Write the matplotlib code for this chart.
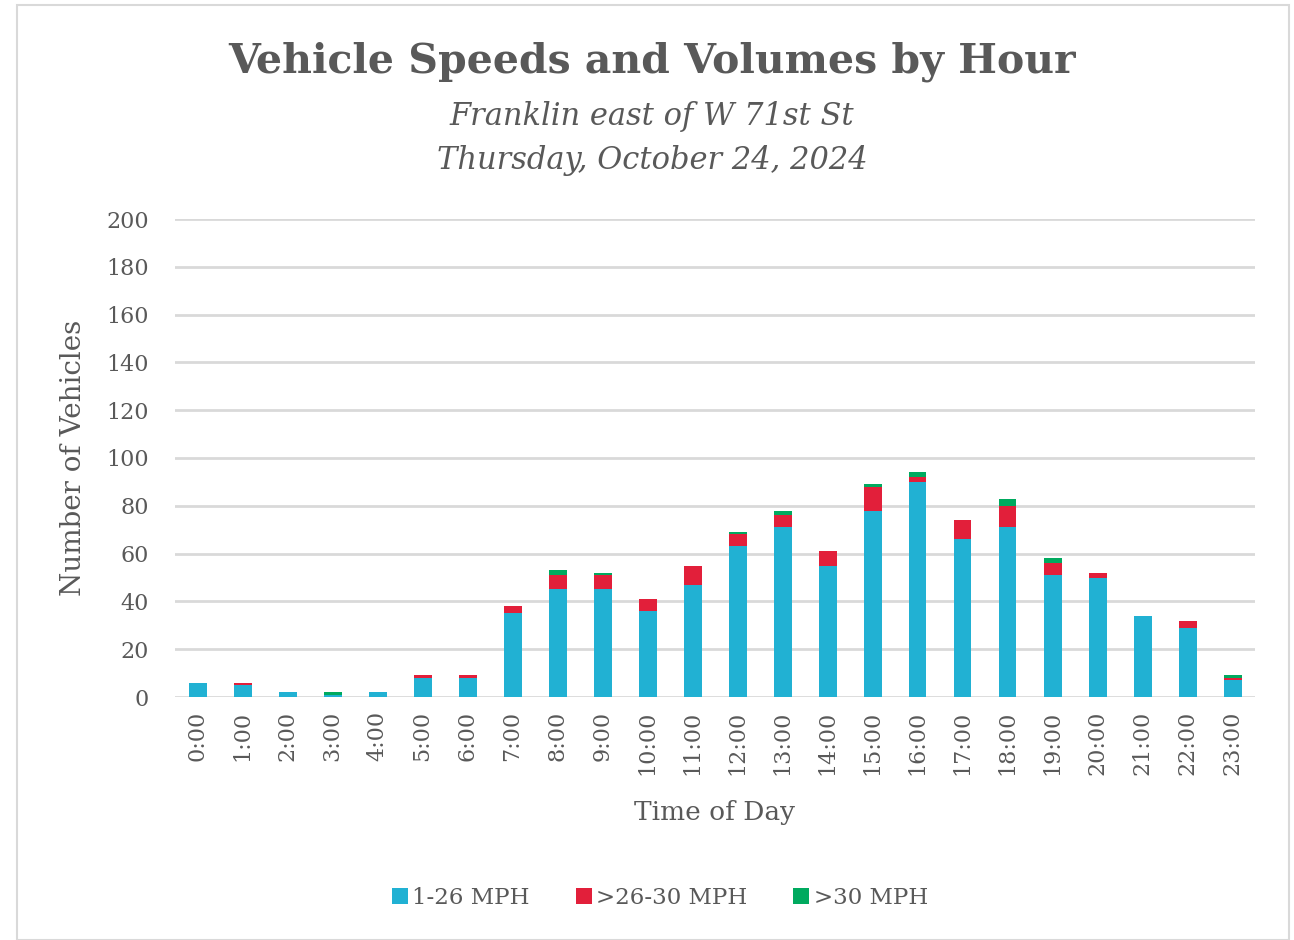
import matplotlib.pyplot as plt
from matplotlib.patches import Rectangle
import numpy as np

# --------------------------
# Data
# --------------------------

hours = ["0:00", "1:00", "2:00", "3:00", "4:00", "5:00", "6:00", "7:00",
         "8:00", "9:00", "10:00", "11:00", "12:00", "13:00", "14:00", "15:00",
         "16:00", "17:00", "18:00", "19:00", "20:00", "21:00", "22:00", "23:00"]

speed_1_26 = [6, 5, 2, 1, 2, 8, 8, 35, 45, 45, 36, 47, 63, 71, 55, 78, 90, 66, 71, 51, 50, 34, 29, 7]
speed_26_30 = [0, 1, 0, 0, 0, 1, 1, 3, 6, 6, 5, 8, 5, 5, 6, 10, 2, 8, 9, 5, 2, 0, 3, 1]
speed_over_30 = [0, 0, 0, 1, 0, 0, 0, 0, 2, 1, 0, 0, 1, 2, 0, 1, 2, 0, 3, 2, 0, 0, 0, 1]

series_labels = ["1-26 MPH", ">26-30 MPH", ">30 MPH"]
colors = ["#21B1D3", "#E21F3A", "#00AA5F"]

text_color = "#595959"
serif = ["DejaVu Serif"]

plt.rcParams["font.family"] = serif

fig = plt.figure(figsize=(12.94, 9.4), dpi=100)

# chart border
fig.patches.append(Rectangle((17 / 1294, 0), 1272 / 1294, 935 / 940,
                             transform=fig.transFigure, fill=False,
                             edgecolor="#D9D9D9", linewidth=1.5))

ax = fig.add_axes([175 / 1294, 1 - 697 / 940, 1080 / 1294, 478 / 940])

x = np.arange(len(hours))
width = 0.4

bottom = np.zeros(len(hours))
for values, label, color in zip([speed_1_26, speed_26_30, speed_over_30],
                                series_labels, colors):
    values = np.array(values)
    ax.bar(x, values, width, bottom=bottom, color=color, label=label,
           edgecolor="none", zorder=3)
    bottom = bottom + values

ax.set_xlim(-0.5, len(hours) - 0.5)
ax.set_ylim(0, 200)
ax.set_yticks(range(0, 201, 20))

ax.set_xticks(x)
ax.set_xticklabels(hours, rotation=90, fontsize=16, color=text_color)
ax.tick_params(axis="y", labelsize=16, labelcolor=text_color, length=0, pad=19)
ax.tick_params(axis="x", length=0, pad=10)

ax.grid(axis="y", color="#D9D9D9", linewidth=2, zorder=0)
for spine in ax.spines.values():
    spine.set_visible(False)

ax.set_ylabel("Number of Vehicles", fontsize=20, color=text_color, labelpad=14)
ax.set_xlabel("Time of Day", fontsize=19, color=text_color, labelpad=18)

# --------------------------
# Titles
# --------------------------

fig.text(652 / 1294, 1 - 62 / 940, "Vehicle Speeds and Volumes by Hour",
         ha="center", va="center", fontsize=29.5, fontweight="bold",
         color=text_color)
fig.text(652 / 1294, 1 - 116 / 940, "Franklin east of W 71st St",
         ha="center", va="center", fontsize=22, style="italic",
         color=text_color)
fig.text(652 / 1294, 1 - 160 / 940, "Thursday, October 24, 2024",
         ha="center", va="center", fontsize=22, style="italic",
         color=text_color)

fig.legend(loc="center", bbox_to_anchor=(660 / 1294, 1 - 898 / 940), ncol=3,
           frameon=False, fontsize=16.5, labelcolor=text_color,
           handlelength=0.7, handleheight=0.7, handletextpad=0.2,
           columnspacing=2.0)

fig.savefig("out.png", dpi=100)
